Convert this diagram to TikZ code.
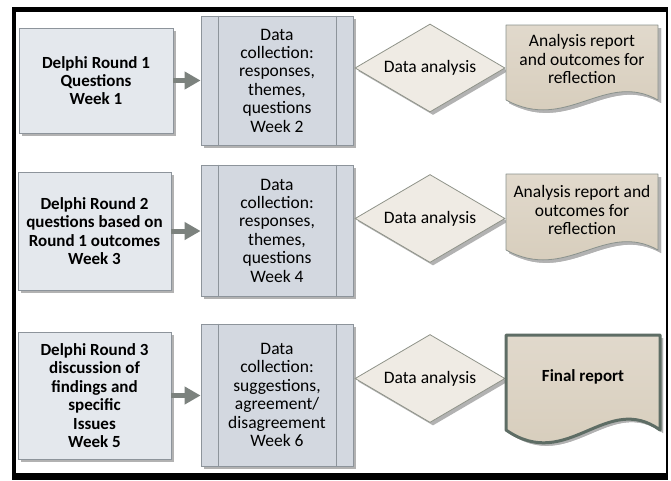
\documentclass[tikz,border=0pt]{standalone}
\usepackage{fontspec}
\setmainfont{Carlito}
\usetikzlibrary{shapes.geometric,arrows.meta,shadows,calc}

\definecolor{roundfill}{HTML}{E4E8ED}
\definecolor{collectfill}{HTML}{D3D8E0}
\definecolor{boxline}{HTML}{8D949B}
\definecolor{decisionfill}{HTML}{EFEBE4}
\definecolor{decisionline}{HTML}{8F9389}
\definecolor{reporttop}{HTML}{E1D9CC}
\definecolor{reportbottom}{HTML}{D5CBB9}
\definecolor{reportline}{HTML}{8A928D}
\definecolor{finalline}{HTML}{5E6D65}
\definecolor{shadowgray}{HTML}{B2B2B2}
\definecolor{arrowgray}{HTML}{7C827E}

% report sheet: left x, top y, right x, bottom-edge y, wave depth
\newcommand\reportsheet[6][]{%
  \fill[shadowgray,shift={(3,3)}] (#2,#3) -- (#4,#3) -- (#4,#5)
     .. controls ({#4-0.35*(#4-#2)},{#5-3*#6}) and ({#2+0.4*(#4-#2)},{#5+3.3*#6}) .. (#2,#5) -- cycle;
  \shade[top color=reporttop,bottom color=reportbottom] (#2,#3) -- (#4,#3) -- (#4,#5)
     .. controls ({#4-0.35*(#4-#2)},{#5-3*#6}) and ({#2+0.4*(#4-#2)},{#5+3.3*#6}) .. (#2,#5) -- cycle;
  \draw[draw=reportline,line width=0.8pt,line join=round,#1] (#2,#3) -- (#4,#3) -- (#4,#5)
     .. controls ({#4-0.35*(#4-#2)},{#5-3*#6}) and ({#2+0.4*(#4-#2)},{#5+3.3*#6}) .. (#2,#5) -- cycle;
}

\begin{document}
\begin{tikzpicture}[x=1pt,y=-1pt,
  every node/.style={font=\fontsize{17.5}{18.4}\selectfont, align=center, inner sep=0pt},
  shade/.style={drop shadow={shadow xshift=3pt,shadow yshift=-3pt,fill=shadowgray,opacity=1}},
  roundbox/.style={shade, draw=boxline, fill=roundfill, line width=0.8pt, font=\fontsize{17}{18.4}\selectfont\bfseries},
  collectbox/.style={shade, draw=boxline, fill=collectfill, line width=0.8pt},
  decision/.style={shade, diamond, draw=decisionline, fill=decisionfill, line width=0.8pt,
    minimum width=150pt, minimum height=88pt, aspect=1.7},
  flowarrow/.style={draw=arrowgray, line width=5pt, -{Triangle[length=16pt,width=17pt]}}
]
\useasboundingbox (0,0) rectangle (671,480);

% black frame
\fill[black] (12,7) rectangle (668,480);
\fill[white] (16,12) rectangle (666,473);

% Delphi rounds
\node[roundbox, minimum width=154pt, minimum height=105pt] (l1) at (96,80.5)
  {Delphi Round 1\\Questions\\Week 1};
\node[roundbox, minimum width=153pt, minimum height=118pt] (l2) at (94.5,231)
  {Delphi Round 2\\questions based on\\Round 1 outcomes\\Week 3};
\node[roundbox, minimum width=153pt, minimum height=127pt] (l3) at (94.5,395.5)
  {Delphi Round 3\\discussion of\\findings and\\specific\\Issues\\Week 5};

% data collection
\node[collectbox, minimum width=152pt, minimum height=129pt] (p1) at (277,80.5)
  {Data\\collection:\\responses,\\themes,\\questions\\Week 2};
\node[collectbox, minimum width=152pt, minimum height=131pt] (p2) at (277,230.5)
  {Data\\collection:\\responses,\\themes,\\questions\\Week 4};
\node[collectbox, minimum width=152pt, minimum height=142pt] (p3) at (277,395)
  {Data\\collection:\\suggestions,\\agreement/\\disagreement\\Week 6};
\foreach \p in {p1,p2,p3}{
  \draw[boxline, line width=0.8pt] ($(\p.north west)+(18,0)$) -- ($(\p.south west)+(18,0)$);
  \draw[boxline, line width=0.8pt] ($(\p.north east)+(-17,0)$) -- ($(\p.south east)+(-17,0)$);
}

% analysis
\node[decision] (d1) at (430,68) {Data analysis};
\node[decision] (d2) at (430,218.5) {Data analysis};
\node[decision] (d3) at (430,378.5) {Data analysis};

% reports
\reportsheet{506}{25}{658}{100}{10}
\node (r1) at (582,59) {Analysis report\\and outcomes for\\reflection};
\reportsheet{506}{174}{658}{250}{10}
\node (r2) at (582,210) {Analysis report and\\outcomes for\\reflection};
\reportsheet[draw=finalline,line width=3pt]{506}{335}{660}{430}{13}
\node[font=\fontsize{17}{18.4}\selectfont\bfseries] (r3) at (583,377) {Final report};

% arrows
\draw[flowarrow] (l1.east) -- (p1.west |- l1.east);
\draw[flowarrow] (l2.east) -- (p2.west |- l2.east);
\draw[flowarrow] (l3.east) -- (p3.west |- l3.east);
\end{tikzpicture}
\end{document}
